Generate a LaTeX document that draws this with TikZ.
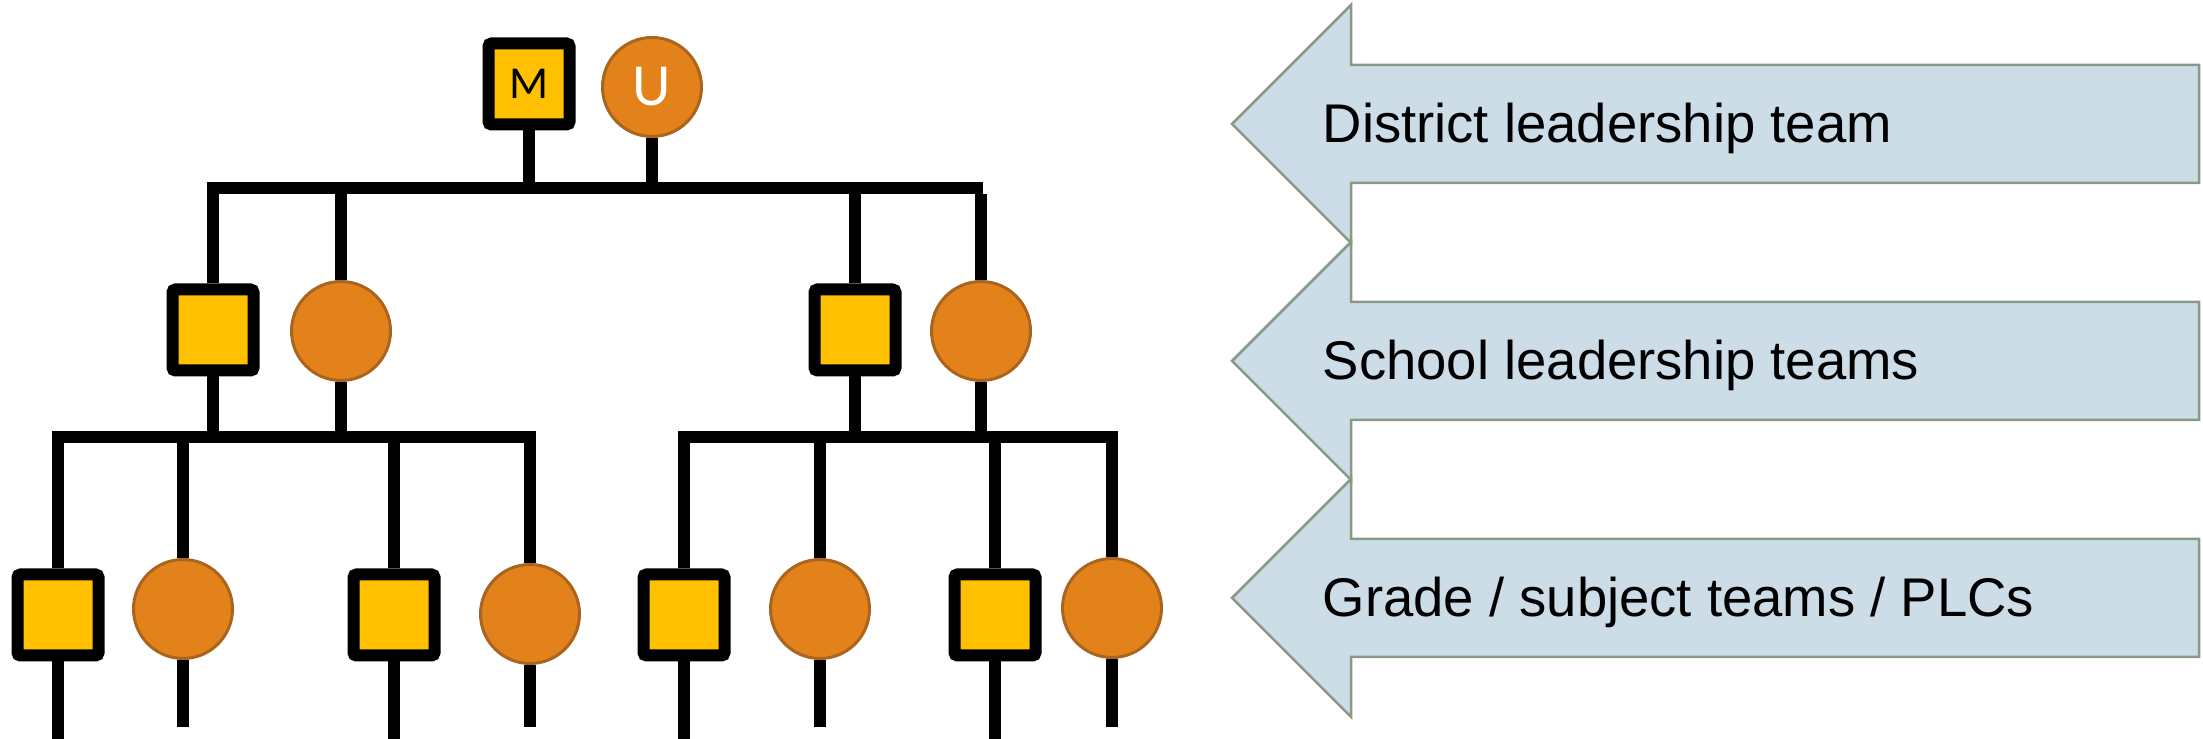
\documentclass[tikz,border=0pt]{standalone}
\usepackage{fontspec}
\setmainfont{Liberation Sans}
\newfontfamily\letterfont{Carlito}
\usepackage{tikz}

\definecolor{mgold}{HTML}{FFC000}
\definecolor{uorange}{HTML}{E3821A}
\definecolor{uedge}{HTML}{A9651E}
\definecolor{bandfill}{HTML}{CCDDE8}
\definecolor{bandedge}{HTML}{8A9985}

\begin{document}
\begin{tikzpicture}[x=0.1mm, y=-0.1mm,
        msq/.style={draw=black, line width=1.2mm, fill=mgold, rounded corners=0.3mm,
            minimum size=8.1mm, inner sep=0pt, font=\letterfont\fontsize{13}{13}\selectfont},
        ucirc/.style={circle, draw=uedge, line width=0.3mm, fill=uorange, minimum size=9.9mm,
            inner sep=0pt, text=white, font=\letterfont\fontsize{17}{17}\selectfont},
        link/.style={line width=1.2mm, line join=miter},
        band/.style={draw=bandedge, line width=0.25mm, fill=bandfill},
        bandlabel/.style={anchor=base west, inner sep=0pt, font=\fontsize{15.5}{18}\selectfont}]
        \useasboundingbox (0,0) rectangle (2203,739);

        \foreach \yc/\txt [count=\i] in {124/District leadership team, 361/School leadership teams, 598/{Grade / subject teams / PLCs}} {
            \draw[band] (2199,\yc-59) -- (1351,\yc-59) -- (1351,\yc-119) -- (1232,\yc)
                -- (1351,\yc+119) -- (1351,\yc+59) -- (2199,\yc+59) -- cycle;
            \node[bandlabel] (lab\i) at (1322,\yc+19) {\txt};
        }

        \node[msq] (m0) at (529,84) {M};
        \node[ucirc] (u0) at (652,87) {U};

        \node[msq] (m1) at (213,330) {};
        \node[ucirc] (u1) at (341,331) {};
        \node[msq] (m2) at (855,330) {};
        \node[ucirc] (u2) at (981,331) {};

        \node[msq] (m3) at (58,615) {};
        \node[ucirc] (u3) at (183,609) {};
        \node[msq] (m4) at (394,615) {};
        \node[ucirc] (u4) at (530,614) {};
        \node[msq] (m5) at (684,615) {};
        \node[ucirc] (u5) at (820,609) {};
        \node[msq] (m6) at (995,615) {};
        \node[ucirc] (u6) at (1112,608) {};

        \coordinate (bar0) at (983,188);
        \coordinate (bar0low) at (0,194);
        \coordinate (bar1) at (0,437);
        \coordinate (foot) at (0,739);
        \coordinate (footc) at (0,727);

        \draw[link] (m0.south) -- (m0.south |- bar0);
        \draw[link] (u0.south) -- (u0.south |- bar0);
        \draw[link] (m1.north) |- (bar0);
        \draw[link] (m2.north) -- (m2.north |- bar0);
        \draw[link] (u1.north) -- (u1.north |- bar0low);
        \draw[link] (u2.north) -- (u2.north |- bar0low);

        \draw[link] (m1.south) -- (m1.south |- bar1);
        \draw[link] (u1.south) -- (u1.south |- bar1);
        \draw[link] (m2.south) -- (m2.south |- bar1);
        \draw[link] (u2.south) -- (u2.south |- bar1);

        \draw[link] (m3.north) |- (u4.north |- bar1) -- (u4.north);
        \draw[link] (m5.north) |- (u6.north |- bar1) -- (u6.north);
        \draw[link] (u3.north) -- (u3.north |- bar1);
        \draw[link] (m4.north) -- (m4.north |- bar1);
        \draw[link] (u5.north) -- (u5.north |- bar1);
        \draw[link] (m6.north) -- (m6.north |- bar1);

        \foreach \n in {m3,m4,m5,m6}
            \draw[link] (\n.south) -- (\n.south |- foot);
        \foreach \n in {u3,u4,u5,u6}
            \draw[link] (\n.south) -- (\n.south |- footc);
\end{tikzpicture}
\end{document}
